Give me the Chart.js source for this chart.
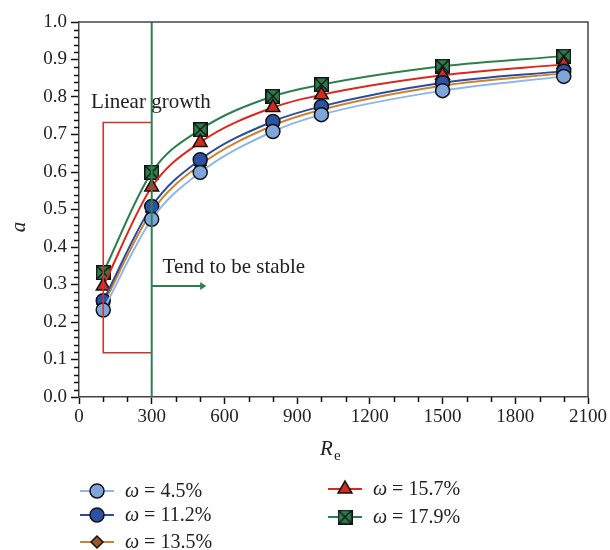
<!DOCTYPE html>
<html>
<head>
<meta charset="utf-8">
<script src="https://cdn.jsdelivr.net/npm/chart.js@4.4.1/dist/chart.umd.min.js"></script>
<style>
  body { margin: 0; background: #fff; }
</style>
</head>
<body>
<canvas id="myChart" width="610" height="550"></canvas>
<script>
// Reynolds number samples and the a values for each moisture content
const reValues = [100, 300, 500, 800, 1000, 1500, 2000];
const omegaLabels = ["4.5%", "11.2%", "13.5%", "15.7%", "17.9%"];
const aW45  = [0.232, 0.474, 0.599, 0.708, 0.753, 0.817, 0.855];
const aW112 = [0.257, 0.508, 0.633, 0.735, 0.775, 0.838, 0.869];
const aW135 = [0.247, 0.494, 0.619, 0.724, 0.766, 0.830, 0.863];
const aW157 = [0.296, 0.560, 0.679, 0.772, 0.806, 0.858, 0.887];
const aW179 = [0.332, 0.599, 0.713, 0.802, 0.833, 0.882, 0.909];
const xTicks = [0, 300, 600, 900, 1200, 1500, 1800, 2100];
const yTicks = [0.0, 0.1, 0.2, 0.3, 0.4, 0.5, 0.6, 0.7, 0.8, 0.9, 1.0];

const serif = "'Liberation Serif', 'DejaVu Serif', serif";
Chart.defaults.font.family = serif;
Chart.defaults.color = "#222";

// green square with a black cross for the 17.9% series
function crossBox(size, fill) {
  const c = document.createElement("canvas");
  c.width = size; c.height = size;
  const g = c.getContext("2d");
  g.fillStyle = fill;
  g.fillRect(0, 0, size, size);
  g.strokeStyle = "#111";
  g.lineWidth = 1.4;
  g.strokeRect(0.7, 0.7, size - 1.4, size - 1.4);
  g.beginPath();
  g.moveTo(1.5, 1.5); g.lineTo(size - 1.5, size - 1.5);
  g.moveTo(size - 1.5, 1.5); g.lineTo(1.5, size - 1.5);
  g.stroke();
  return c;
}
const greenBox = crossBox(15, "#2f7d4e");

function pts(ys) {
  return reValues.map((x, i) => ({ x: x, y: ys[i] }));
}

const series = [
  { ys: aW45,  line: "#8fb6e6", fill: "#7ea6dc", style: "circle",   r: 7 },
  { ys: aW112, line: "#2b4d9b", fill: "#2c52a5", style: "circle",   r: 7 },
  { ys: aW135, line: "#c8842e", fill: "#9c5a22", style: "rectRot",  r: 6 },
  { ys: aW157, line: "#d9281c", fill: "#d32b1f", style: "triangle", r: 8 },
  { ys: aW179, line: "#2e7f4f", fill: "#2f7d4e", style: greenBox,   r: 7 }
];

const datasets = series.map((s, i) => ({
  label: "\u03c9 = " + omegaLabels[i],
  data: pts(s.ys),
  borderColor: s.line,
  borderWidth: 2,
  backgroundColor: s.fill,
  pointStyle: s.style,
  pointRadius: s.r,
  pointHoverRadius: s.r,
  pointBorderColor: "#111",
  pointBorderWidth: 1.5,
  cubicInterpolationMode: "monotone",
  fill: false
}));

// frame, minor ticks, annotations, axis titles and the two-column legend
const extras = {
  id: "extras",
  afterDatasetsDraw(chart) {
    const ctx = chart.ctx;
    const xs = chart.scales.x, ys = chart.scales.y;
    const X = v => xs.getPixelForValue(v), Y = v => ys.getPixelForValue(v);
    ctx.save();
    // red bracket around the linear growth part
    ctx.strokeStyle = "#c9372c";
    ctx.lineWidth = 1.6;
    ctx.beginPath();
    ctx.moveTo(X(300), Y(0.732));
    ctx.lineTo(X(100), Y(0.732));
    ctx.lineTo(X(100), Y(0.118));
    ctx.lineTo(X(300), Y(0.118));
    ctx.stroke();
    // green divider at Re = 300 with arrow
    ctx.strokeStyle = "#2e7f4f";
    ctx.fillStyle = "#2e7f4f";
    ctx.lineWidth = 2;
    ctx.beginPath();
    ctx.moveTo(X(300), chart.chartArea.top);
    ctx.lineTo(X(300), chart.chartArea.bottom);
    ctx.moveTo(X(300), Y(0.296));
    ctx.lineTo(X(505), Y(0.296));
    ctx.stroke();
    ctx.beginPath();
    ctx.moveTo(X(525), Y(0.296));
    ctx.lineTo(X(500), Y(0.296) - 4);
    ctx.lineTo(X(500), Y(0.296) + 4);
    ctx.closePath();
    ctx.fill();
    ctx.fillStyle = "#222";
    ctx.font = "21px " + serif;
    ctx.textAlign = "left";
    ctx.textBaseline = "alphabetic";
    ctx.fillText("Linear growth", X(50), Y(0.77));
    ctx.fillText("Tend to be stable", X(345), Y(0.33));
    ctx.restore();
  },
  afterDraw(chart) {
    const ctx = chart.ctx;
    const area = chart.chartArea;
    const xs = chart.scales.x, ys = chart.scales.y;
    ctx.save();
    // top and right frame
    ctx.strokeStyle = "#444";
    ctx.lineWidth = 1.5;
    ctx.beginPath();
    ctx.moveTo(area.left, area.top);
    ctx.lineTo(area.right, area.top);
    ctx.lineTo(area.right, area.bottom);
    ctx.stroke();
    // minor ticks
    ctx.strokeStyle = "#111";
    ctx.lineWidth = 1.5;
    ctx.beginPath();
    for (let v = 100; v < 2100; v += 100) {
      if (v % 300 === 0) continue;
      const px = Math.round(xs.getPixelForValue(v)) + 0.5;
      ctx.moveTo(px, area.bottom);
      ctx.lineTo(px, area.bottom + 5);
    }
    for (let k = 1; k < 50; k++) {
      if (k % 5 === 0) continue;
      const py = Math.round(ys.getPixelForValue(k / 50)) + 0.5;
      ctx.moveTo(area.left, py);
      ctx.lineTo(area.left - 5, py);
    }
    ctx.stroke();
    // axis titles
    ctx.fillStyle = "#222";
    ctx.font = "italic 21px " + serif;
    ctx.textAlign = "center";
    ctx.textBaseline = "middle";
    ctx.save();
    ctx.translate(19, 227);
    ctx.rotate(-Math.PI / 2);
    ctx.fillText("a", 0, 0);
    ctx.restore();
    ctx.textAlign = "left";
    ctx.textBaseline = "alphabetic";
    ctx.fillText("R", 320, 455);
    ctx.font = "15px " + serif;
    ctx.fillText("e", 334, 460);
    // legend in two columns
    const slots = [
      [80, 491], [80, 515], [80, 542], [328, 489], [328, 517]
    ];
    chart.data.datasets.forEach((ds, i) => {
      const [lx, ly] = slots[i];
      ctx.strokeStyle = ds.borderColor;
      ctx.lineWidth = 2;
      ctx.beginPath();
      ctx.moveTo(lx, ly);
      ctx.lineTo(lx + 34, ly);
      ctx.stroke();
      ctx.fillStyle = ds.backgroundColor;
      ctx.strokeStyle = ds.pointBorderColor;
      ctx.lineWidth = ds.pointBorderWidth;
      Chart.helpers.drawPoint(ctx, {
        pointStyle: ds.pointStyle,
        radius: ds.pointRadius,
        borderWidth: ds.pointBorderWidth
      }, lx + 17, ly);
      ctx.fillStyle = "#222";
      ctx.textBaseline = "middle";
      ctx.font = "italic 20px " + serif;
      ctx.fillText("\u03c9", lx + 45, ly + 1);
      const w = ctx.measureText("\u03c9").width;
      ctx.font = "20px " + serif;
      ctx.fillText(" = " + omegaLabels[i], lx + 45 + w, ly + 1);
    });
    ctx.restore();
  }
};

new Chart("myChart", {
  type: "line",
  data: { datasets: datasets },
  plugins: [extras],
  options: {
    responsive: false,
    animation: false,
    devicePixelRatio: 1,
    layout: { padding: { top: 22, right: 22, left: 0, bottom: 0 } },
    plugins: {
      legend: { display: false },
      tooltip: { enabled: false }
    },
    scales: {
      x: {
        type: "linear",
        min: 0,
        max: 2100,
        afterFit: s => { s.height = 153; },
        afterBuildTicks: s => { s.ticks = xTicks.map(v => ({ value: v })); },
        ticks: { font: { size: 19 }, padding: 2, maxRotation: 0, color: "#222", callback: v => String(v) },
        grid: { drawOnChartArea: false, tickLength: 7, tickWidth: 1.5, tickColor: "#111" },
        border: { color: "#444", width: 1.5 }
      },
      y: {
        min: 0,
        max: 1,
        afterFit: s => { s.width = 79; },
        afterBuildTicks: s => { s.ticks = yTicks.map(v => ({ value: v })); },
        ticks: { font: { size: 19 }, padding: 4, color: "#222", callback: v => v.toFixed(1) },
        grid: { drawOnChartArea: false, tickLength: 8, tickWidth: 1.5, tickColor: "#111" },
        border: { color: "#444", width: 1.5 }
      }
    }
  }
});
</script>
</body>
</html>
